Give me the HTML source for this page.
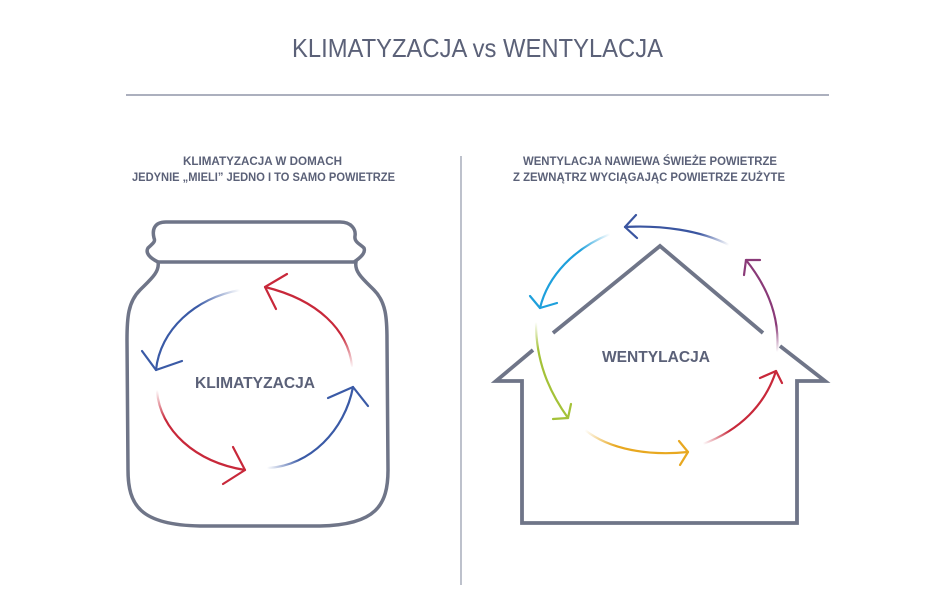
<!DOCTYPE html>
<html><head><meta charset="utf-8"><style>
html,body{margin:0;padding:0;background:#fff;}
svg{display:block;}
text{font-family:"Liberation Sans",sans-serif;fill:#5b6178;}
</style></head><body>
<svg width="945" height="610" viewBox="0 0 945 610" xmlns="http://www.w3.org/2000/svg">
<defs>
<linearGradient id="jb1" gradientUnits="userSpaceOnUse" x1="240" y1="290" x2="200" y2="310"><stop offset="0" stop-color="#3a5aa6" stop-opacity="0"/><stop offset="1" stop-color="#3a5aa6"/></linearGradient>
<linearGradient id="jr1" gradientUnits="userSpaceOnUse" x1="352" y1="368" x2="345" y2="335"><stop offset="0" stop-color="#c8283a" stop-opacity="0"/><stop offset="1" stop-color="#c8283a"/></linearGradient>
<linearGradient id="jr2" gradientUnits="userSpaceOnUse" x1="157" y1="390" x2="165" y2="420"><stop offset="0" stop-color="#c8283a" stop-opacity="0"/><stop offset="1" stop-color="#c8283a"/></linearGradient>
<linearGradient id="jb2" gradientUnits="userSpaceOnUse" x1="267" y1="468" x2="300" y2="458"><stop offset="0" stop-color="#3a5aa6" stop-opacity="0"/><stop offset="1" stop-color="#3a5aa6"/></linearGradient>
<linearGradient id="hb" gradientUnits="userSpaceOnUse" x1="729" y1="245" x2="700" y2="230"><stop offset="0" stop-color="#3a55a0" stop-opacity="0"/><stop offset="1" stop-color="#3a55a0"/></linearGradient>
<linearGradient id="hc" gradientUnits="userSpaceOnUse" x1="610" y1="234" x2="580" y2="250"><stop offset="0" stop-color="#1ea0dc" stop-opacity="0"/><stop offset="1" stop-color="#1ea0dc"/></linearGradient>
<linearGradient id="hg" gradientUnits="userSpaceOnUse" x1="536" y1="322" x2="538" y2="350"><stop offset="0" stop-color="#a4c238" stop-opacity="0"/><stop offset="1" stop-color="#a4c238"/></linearGradient>
<linearGradient id="hy" gradientUnits="userSpaceOnUse" x1="585" y1="430" x2="615" y2="448"><stop offset="0" stop-color="#e8a820" stop-opacity="0"/><stop offset="1" stop-color="#e8a820"/></linearGradient>
<linearGradient id="hr" gradientUnits="userSpaceOnUse" x1="703" y1="444" x2="730" y2="430"><stop offset="0" stop-color="#c8283a" stop-opacity="0"/><stop offset="1" stop-color="#c8283a"/></linearGradient>
<linearGradient id="hp" gradientUnits="userSpaceOnUse" x1="777" y1="352" x2="778" y2="325"><stop offset="0" stop-color="#8a3a78" stop-opacity="0"/><stop offset="1" stop-color="#8a3a78"/></linearGradient>
</defs>

<text x="292" y="57" font-size="26" textLength="371" lengthAdjust="spacingAndGlyphs">KLIMATYZACJA vs WENTYLACJA</text>
<line x1="126" y1="95" x2="829" y2="95" stroke="#7a8098" stroke-width="1.3"/>
<line x1="461" y1="156" x2="461" y2="585" stroke="#9aa0b0" stroke-width="1.3"/>

<g font-size="12" font-weight="bold">
<text x="183" y="165" textLength="159" lengthAdjust="spacingAndGlyphs">KLIMATYZACJA W DOMACH</text>
<text x="132" y="181" textLength="263" lengthAdjust="spacingAndGlyphs">JEDYNIE „MIELI” JEDNO I TO SAMO POWIETRZE</text>
<text x="523" y="165" textLength="254" lengthAdjust="spacingAndGlyphs">WENTYLACJA NAWIEWA ŚWIEŻE POWIETRZE</text>
<text x="513" y="181" textLength="272" lengthAdjust="spacingAndGlyphs">Z ZEWNĄTRZ WYCIĄGAJĄC POWIETRZE ZUŻYTE</text>
</g>

<!-- jar -->
<g fill="none" stroke="#6f7588" stroke-width="3.5" stroke-linejoin="round" stroke-linecap="round">
<path d="M158 262 C150 258 145 253 148 248 C152 244 156 242 154 238 C152 230 154 222 166 222 L340 222 C352 222 356 230 355 236 C354 242 360 244 364 248 C366 253 360 258 354 262 Z"/>
<path d="M158 262 C160 272 150 280 140 290 C128 302 127 318 127 340 L128 470 C128 505 140 525 200 526 L320 526 C376 525 388 505 388 470 L387 340 C387 318 386 302 374 290 C364 280 354 272 356 262"/>
</g>
<g fill="none" stroke-width="2.2" stroke-linecap="round" stroke-linejoin="round">
<path d="M240 290 C195 298 160 330 156 370" stroke="url(#jb1)"/>
<path d="M142 351 L156 370 L182 361" stroke="#3a5aa6"/>
<path d="M352 366 C348 330 318 300 265 287" stroke="url(#jr1)"/>
<path d="M287 274 L265 287 L276 309" stroke="#c8283a"/>
<path d="M157 391 C160 430 195 462 245 470" stroke="url(#jr2)"/>
<path d="M233 447 L245 470 L223 484" stroke="#c8283a"/>
<path d="M268 468 C310 466 345 430 353 387" stroke="url(#jb2)"/>
<path d="M328 398 L353 387 L368 406" stroke="#3a5aa6"/>
</g>
<text x="255" y="388" font-size="16" font-weight="bold" text-anchor="middle" textLength="120" lengthAdjust="spacingAndGlyphs">KLIMATYZACJA</text>

<!-- house -->
<g fill="none" stroke="#6f7588" stroke-width="3.8" stroke-linejoin="miter">
<path d="M553 333 L660 246 L763 333"/>
<path d="M533 350 L496 381 L522 381 L522 523 L797 523 L797 381 L825 381 L780 346"/>
</g>
<g fill="none" stroke-width="2.2" stroke-linecap="round" stroke-linejoin="round">
<path d="M729 245 C700 230 660 225 625 227" stroke="url(#hb)"/>
<path d="M636 215 L625 227 L637 238" stroke="#3a55a0"/>
<path d="M610 234 C575 248 548 275 540 308" stroke="url(#hc)"/>
<path d="M530 296 L540 308 L557 303" stroke="#1ea0dc"/>
<path d="M536 323 C536 360 548 390 568 418" stroke="url(#hg)"/>
<path d="M553 419 L568 418 L571 404" stroke="#a4c238"/>
<path d="M585 430 C610 450 650 456 688 452" stroke="url(#hy)"/>
<path d="M679 441 L688 452 L680 465" stroke="#e8a820"/>
<path d="M703 444 C740 430 765 405 776 371" stroke="url(#hr)"/>
<path d="M760 378 L776 371 L782 383" stroke="#c8283a"/>
<path d="M777 352 C780 320 770 290 746 260" stroke="url(#hp)"/>
<path d="M744 275 L746 260 L760 260" stroke="#8a3a78"/>
</g>
<text x="656" y="362" font-size="16" font-weight="bold" text-anchor="middle" textLength="108" lengthAdjust="spacingAndGlyphs">WENTYLACJA</text>
</svg>
</body></html>
